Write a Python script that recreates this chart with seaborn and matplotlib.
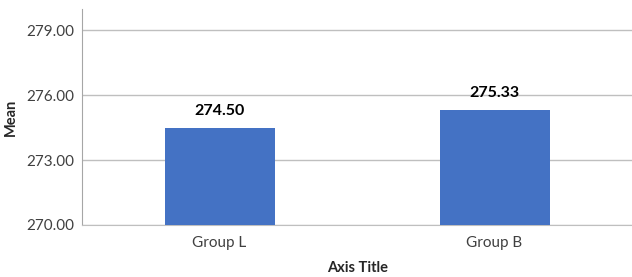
import matplotlib
matplotlib.use("Agg")
import matplotlib.pyplot as plt
import pandas as pd
import seaborn as sns

groups = ["Group L", "Group B"]
means = [274.50, 275.33]
y_ticks = [270, 273, 276, 279]

sns.set_style("white")
plt.rcParams['font.family'] = ['Lato', 'DejaVu Sans']

df = pd.DataFrame({"group": groups, "mean": means})

fig = plt.figure(figsize=(6.32, 2.77), dpi=100)
ax = fig.add_axes([0.13, 0.188, 0.87, 0.78])

sns.barplot(data=df, x="group", y="mean", color="#4472C4", width=0.4,
            saturation=1, linewidth=0, ax=ax, zorder=3)

ax.set_ylim(270, 280)
ax.set_yticks(y_ticks)
ax.set_yticklabels([f"{v:.2f}" for v in y_ticks])
ax.yaxis.grid(True, color="#bfbfbf", linewidth=1, zorder=0)
ax.tick_params(axis="y", length=4, color="#a6a6a6", labelsize=11, labelcolor="#404040", pad=2)
ax.tick_params(axis="x", length=0, labelsize=11, labelcolor="#404040", pad=8)

for s in ["top", "right"]:
    ax.spines[s].set_visible(False)
ax.spines["left"].set_color("#a6a6a6")
ax.spines["bottom"].set_color("#bfbfbf")

for i, v in enumerate(means):
    ax.annotate(f"{v:.2f}", (i, v), xytext=(0, 7), textcoords="offset points",
                ha="center", va="bottom", fontsize=11.5, fontweight="bold", color="black")

ax.set_ylabel("Mean", fontsize=10.5, fontweight="bold", labelpad=6)
ax.set_xlabel("Axis Title", fontsize=10.5, fontweight="bold", labelpad=8)

fig.savefig("out.png", dpi=100)
